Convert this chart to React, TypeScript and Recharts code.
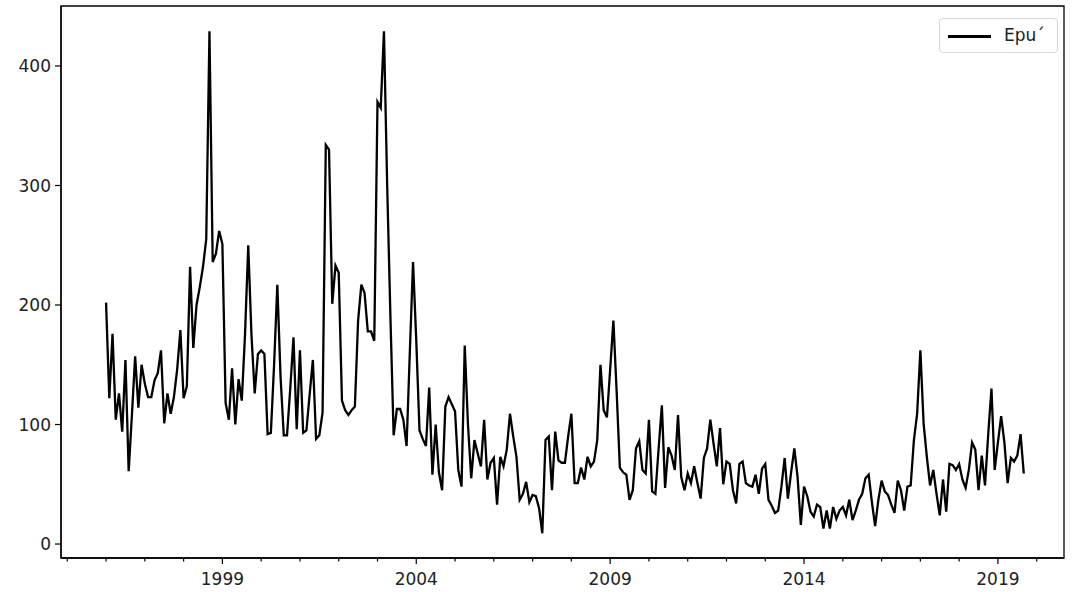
import React from 'react';
import { LineChart, Line, XAxis, YAxis, Legend, ReferenceArea } from 'recharts';

// monthly index values, Jan 1996 .. Sep 2019
const epu1996 = [202, 122, 176, 104, 126, 94, 154, 61, 108, 157, 114, 150];
const epu1997 = [134, 123, 123, 137, 143, 162, 101, 126, 109, 123, 146, 179];
const epu1998 = [122, 132, 232, 164, 200, 215, 232, 255, 429, 236, 243, 262];
const epu1999 = [251, 118, 104, 147, 100, 138, 120, 175, 250, 175, 126, 159];
const epu2000 = [162, 159, 92, 93, 150, 217, 140, 91, 91, 130, 173, 96];
const epu2001 = [162, 93, 95, 125, 154, 88, 91, 110, 334, 330, 201, 233];
const epu2002 = [227, 120, 112, 108, 112, 115, 187, 217, 210, 178, 178, 170];
const epu2003 = [370, 365, 429, 300, 190, 91, 113, 113, 104, 82, 160, 236];
const epu2004 = [170, 95, 88, 82, 131, 58, 100, 60, 45, 115, 123, 117];
const epu2005 = [111, 62, 48, 166, 100, 55, 87, 76, 65, 104, 54, 68];
const epu2006 = [72, 33, 73, 65, 79, 109, 90, 73, 37, 42, 52, 35];
const epu2007 = [41, 40, 30, 9, 87, 90, 45, 94, 70, 68, 68, 90];
const epu2008 = [109, 51, 51, 64, 54, 73, 65, 69, 87, 150, 112, 106];
const epu2009 = [146, 187, 128, 64, 60, 58, 37, 45, 80, 86, 62, 59];
const epu2010 = [104, 44, 42, 80, 116, 47, 81, 74, 62, 108, 56, 45];
const epu2011 = [59, 51, 65, 51, 38, 72, 80, 104, 84, 65, 97, 50];
const epu2012 = [69, 67, 45, 34, 67, 69, 51, 49, 48, 58, 42, 63];
const epu2013 = [67, 37, 32, 26, 28, 48, 72, 38, 60, 80, 56, 16];
const epu2014 = [48, 40, 27, 23, 33, 31, 13, 28, 13, 31, 21, 28];
const epu2015 = [31, 24, 37, 20, 28, 37, 42, 55, 58, 35, 15, 37];
const epu2016 = [53, 44, 41, 33, 26, 53, 45, 28, 48, 49, 87, 109];
const epu2017 = [162, 101, 73, 49, 62, 42, 24, 54, 27, 67, 66, 62];
const epu2018 = [67, 54, 47, 62, 85, 79, 45, 74, 49, 92, 130, 62];
const epu2019 = [85, 107, 85, 51, 72, 69, 74, 92, 59];

const START_YEAR = 1996;
const yearTicks = [1995, 1996, 1997, 1998, 1999, 2000, 2001, 2002, 2003, 2004, 2005, 2006, 2007,
  2008, 2009, 2010, 2011, 2012, 2013, 2014, 2015, 2016, 2017, 2018, 2019, 2020];
const labelYears = [1999, 2004, 2009, 2014, 2019];
const yTicks = [0, 100, 200, 300, 400];

const X_DOMAIN = [1994.838, 2020.704];
const Y_DOMAIN = [-11.7, 450.2];

const values = [
  ...epu1996, ...epu1997, ...epu1998, ...epu1999, ...epu2000, ...epu2001, ...epu2002, ...epu2003,
  ...epu2004, ...epu2005, ...epu2006, ...epu2007, ...epu2008, ...epu2009, ...epu2010, ...epu2011,
  ...epu2012, ...epu2013, ...epu2014, ...epu2015, ...epu2016, ...epu2017, ...epu2018, ...epu2019,
];
const data = values.map((v, i) => ({ t: START_YEAR + i / 12, epu: v }));

const FONT = 'DejaVu Sans';

const YearTick = (props: any) => {
  const { x, y, payload } = props;
  const major = labelYears.includes(payload.value);
  return (
    <g>
      <line x1={x} x2={x} y1={y} y2={y + (major ? 6 : 3.5)} stroke="#000" strokeWidth={1.2} />
      {major && (
        <text x={x} y={y + 27} textAnchor="middle" fontSize={17} fontFamily={FONT} fill="#222">
          {payload.value}
        </text>
      )}
    </g>
  );
};

const LegendBox = () => (
  <div style={{
    width: 119, height: 35, border: '1px solid #d6d6d6', borderRadius: 4, background: '#fff',
    boxSizing: 'border-box', position: 'relative', fontFamily: FONT, fontSize: 17, color: '#222',
  }}>
    <div style={{ position: 'absolute', left: 8, top: 16, width: 43, height: 2.5, background: '#000' }} />
    <div style={{ position: 'absolute', left: 64, top: 6, lineHeight: '20px' }}>Epu´</div>
  </div>
);

export default function App() {
  return (
    <div style={{ position: 'absolute', left: 0, top: 0, background: '#fff' }}>
      <LineChart width={1079} height={592} data={data} margin={{ top: 6, right: 15, bottom: 0, left: 0 }}>
        <XAxis
          dataKey="t"
          type="number"
          domain={X_DOMAIN}
          ticks={yearTicks}
          interval={0}
          tick={<YearTick />}
          tickSize={0}
          tickMargin={0}
          tickLine={false}
          axisLine={{ stroke: '#000', strokeWidth: 1.3 }}
          height={34}
          allowDataOverflow
        />
        <YAxis
          type="number"
          domain={Y_DOMAIN}
          ticks={yTicks}
          interval={0}
          width={61}
          tickSize={6}
          tickMargin={4}
          tickLine={{ stroke: '#000', strokeWidth: 1.2 }}
          axisLine={{ stroke: '#000', strokeWidth: 1.3 }}
          tick={{ fill: '#222', fontSize: 17, fontFamily: FONT }}
          allowDataOverflow
        />
        {/* full frame, like matplotlib spines */}
        <ReferenceArea
          x1={X_DOMAIN[0]}
          x2={X_DOMAIN[1]}
          y1={Y_DOMAIN[0]}
          y2={Y_DOMAIN[1]}
          fill="none"
          fillOpacity={0}
          stroke="#000"
          strokeWidth={1.3}
          strokeOpacity={1}
          ifOverflow="visible"
        />
        <Legend
          layout="vertical"
          align="center"
          verticalAlign="middle"
          content={<LegendBox />}
          wrapperStyle={{ left: 939, top: 18, width: 119, height: 35 }}
        />
        <Line
          type="linear"
          dataKey="epu"
          name="Epu´"
          stroke="#000"
          strokeWidth={2.3}
          dot={false}
          activeDot={false}
          isAnimationActive={false}
        />
      </LineChart>
    </div>
  );
}
